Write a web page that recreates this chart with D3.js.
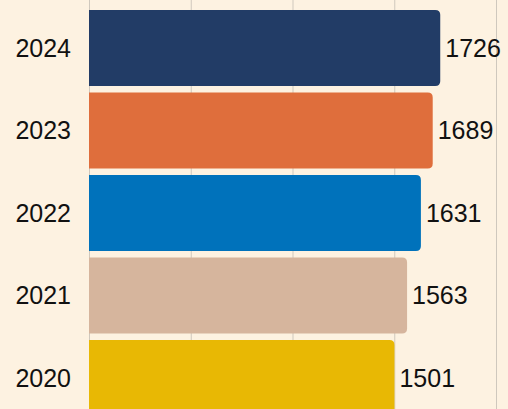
<!DOCTYPE html>
<html>
<head>
<meta charset="utf-8">
<script src="https://cdn.jsdelivr.net/npm/d3@7"></script>
<style>
  html, body { margin: 0; padding: 0; background: #fdf2e1; }
  svg { display: block; }
  text { font-family: "Liberation Sans", Arial, sans-serif; }
</style>
</head>
<body>
<svg width="508" height="409"></svg>
<script>
const width = 508,
  height = 409;

const years = ['2024', '2023', '2022', '2021', '2020'];
const values = [1726, 1689, 1631, 1563, 1501];
const colors = ['#223c66', '#df6e3c', '#0072bb', '#d6b59d', '#e8b804'];
const ticks = [0, 500, 1000, 1500, 2000];

const data = years.map((y, i) => ({ year: y, value: values[i], color: colors[i] }));

const svg = d3.select('svg');

const x = d3.scaleLinear().domain([0, 2000]).range([89, 496]);
const y = d3
  .scaleBand()
  .domain(years)
  .range([6.7, 419.2])
  .paddingInner(0.08)
  .paddingOuter(0.04);

// vertical grid lines behind the bars
svg
  .append('g')
  .selectAll('line')
  .data(ticks)
  .join('line')
  .attr('x1', (d) => x(d) + 0.5)
  .attr('x2', (d) => x(d) + 0.5)
  .attr('y1', 0)
  .attr('y2', height)
  .attr('stroke', '#cfc8bd')
  .attr('stroke-width', 1);

// bars, rounded on the right end only
const r = 5;
svg
  .append('g')
  .selectAll('path')
  .data(data)
  .join('path')
  .attr('fill', (d) => d.color)
  .attr('d', (d) => {
    const x0 = x(0),
      x1 = x(d.value),
      y0 = y(d.year),
      y1 = y0 + y.bandwidth();
    return `M${x0},${y0}H${x1 - r}Q${x1},${y0} ${x1},${y0 + r}V${y1 - r}Q${x1},${y1} ${x1 - r},${y1}H${x0}Z`;
  });

// value labels
svg
  .append('g')
  .selectAll('text')
  .data(data)
  .join('text')
  .attr('x', (d) => x(d.value) + 5)
  .attr('y', (d) => y(d.year) + y.bandwidth() / 2)
  .attr('dy', '0.35em')
  .attr('font-size', 25)
  .attr('fill', '#111')
  .text((d) => d.value);

// year labels
svg
  .append('g')
  .selectAll('text')
  .data(data)
  .join('text')
  .attr('x', 71)
  .attr('y', (d) => y(d.year) + y.bandwidth() / 2)
  .attr('dy', '0.35em')
  .attr('text-anchor', 'end')
  .attr('font-size', 25)
  .attr('fill', '#111')
  .text((d) => d.year);
</script>
</body>
</html>
